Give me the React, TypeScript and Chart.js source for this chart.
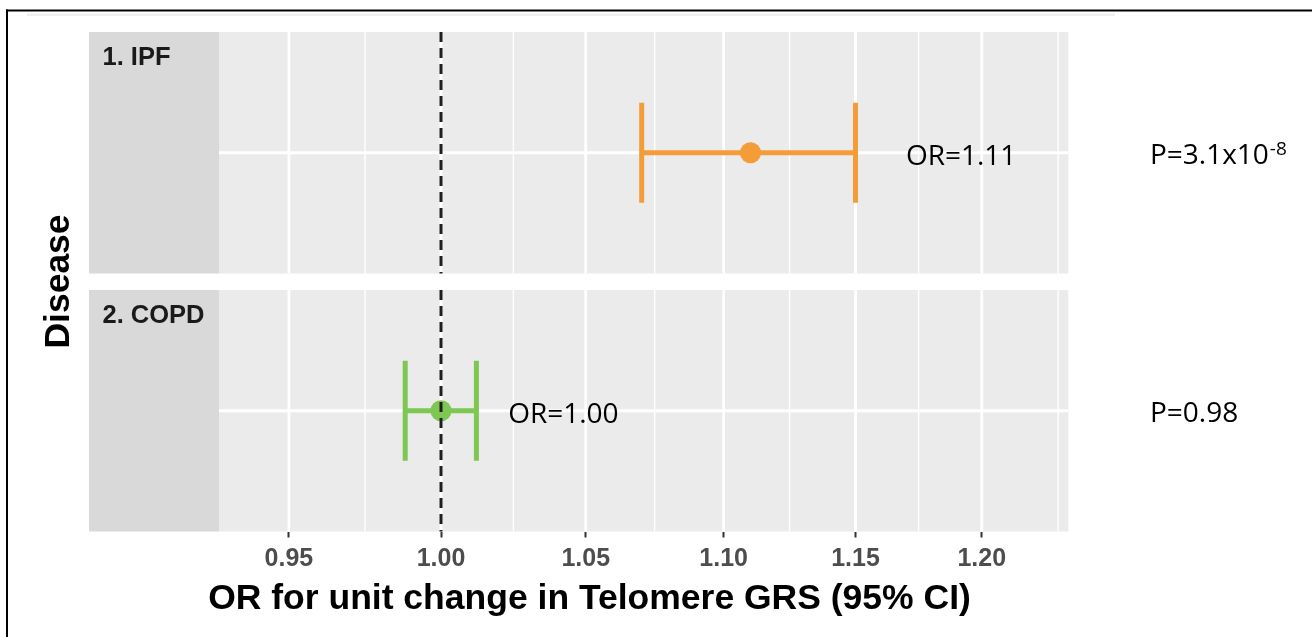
import { useEffect, useRef } from 'react';
import { Chart, registerables } from 'chart.js';

Chart.register(...registerables);

// ---------------- data ----------------
const categories = ['1. IPF', '2. COPD'];
const oddsRatio = [1.11, 1.0];
const ciLower = [1.07, 0.988];
const ciUpper = [1.15, 1.012];
const orLabels = ['OR=1.11', 'OR=1.00'];
const pLabels = ['P=3.1x10', 'P=0.98'];
const pExponents = ['-8', ''];
const xTicks = [0.95, 1.0, 1.05, 1.1, 1.15, 1.2];
const xMinorTicks = [0.9747, 1.0247, 1.0747, 1.1247, 1.1747, 1.2313];
const seriesColors = ['#F39C38', '#7DC752'];
const referenceOR = 1.0;

// ---------------- layout ----------------
const W = 1312;
const H = 637;
const PANEL_GAP = 16.5 / 241.5; // in panel units
const CAP_HALF = 50 / 241.5;
const X_MIN = 0.92788;
const X_MAX = 1.23553;
const STRIP_LEFT = 89;
const OR_LABEL_X = [1.1697, 1.0229];
const P_LABEL_X = 1.27;
const ANNOT_FONT = '"Open Sans", sans-serif';
const GG_FONT = '"Liberation Sans", Arial, sans-serif';

const panelStart = (i: number) => i * (1 + PANEL_GAP);
const panelCenter = (i: number) => panelStart(i) + 0.5;

const backgroundPlugin = {
  id: 'ggBackground',
  beforeDatasetsDraw(chart: any) {
    const { ctx, chartArea, scales } = chart;
    const x = scales.x;
    const y = scales.y;
    ctx.save();
    categories.forEach((cat, i) => {
      const top = y.getPixelForValue(panelStart(i));
      const bottom = y.getPixelForValue(panelStart(i) + 1);
      ctx.fillStyle = '#d9d9d9';
      ctx.fillRect(STRIP_LEFT, top, chartArea.left - STRIP_LEFT, bottom - top);
      ctx.fillStyle = '#ebebeb';
      ctx.fillRect(chartArea.left, top, chartArea.right - chartArea.left, bottom - top);
      ctx.strokeStyle = '#ffffff';
      ctx.lineWidth = 1.4;
      xMinorTicks.forEach((v) => {
        const px = x.getPixelForValue(v);
        if (px < chartArea.left || px > chartArea.right) return;
        ctx.beginPath();
        ctx.moveTo(px, top);
        ctx.lineTo(px, bottom);
        ctx.stroke();
      });
      ctx.lineWidth = 2.8;
      xTicks.forEach((v) => {
        const px = x.getPixelForValue(v);
        ctx.beginPath();
        ctx.moveTo(px, top);
        ctx.lineTo(px, bottom);
        ctx.stroke();
      });
      const cy = y.getPixelForValue(panelCenter(i));
      ctx.beginPath();
      ctx.moveTo(chartArea.left, cy);
      ctx.lineTo(chartArea.right, cy);
      ctx.stroke();
      ctx.fillStyle = '#1a1a1a';
      ctx.font = `bold 25.5px ${GG_FONT}`;
      ctx.textAlign = 'left';
      ctx.textBaseline = 'alphabetic';
      ctx.fillText(cat, 102.5, top + 33.2);
    });
    ctx.restore();
  },
  afterDatasetsDraw(chart: any) {
    const { ctx, scales } = chart;
    const x = scales.x;
    const y = scales.y;
    ctx.save();
    const px = x.getPixelForValue(referenceOR);
    ctx.strokeStyle = '#1f1f1f';
    ctx.lineWidth = 3;
    ctx.setLineDash([10, 6]);
    categories.forEach((_, i) => {
      const top = y.getPixelForValue(panelStart(i));
      const bottom = y.getPixelForValue(panelStart(i) + 1);
      ctx.beginPath();
      ctx.moveTo(px, top);
      ctx.lineTo(px, bottom);
      ctx.stroke();
    });
    ctx.setLineDash([]);
    ctx.restore();
  },
  afterDraw(chart: any) {
    const { ctx, scales } = chart;
    const x = scales.x;
    const y = scales.y;
    ctx.save();
    ctx.fillStyle = '#efefef';
    ctx.fillRect(27, 13.5, 1088, 2.5);
    ctx.fillStyle = '#000000';
    ctx.fillRect(6, 9.5, W - 6, 2);
    ctx.fillRect(6, 9.5, 2, H - 9.5);

    ctx.textAlign = 'left';
    ctx.textBaseline = 'alphabetic';
    categories.forEach((_, i) => {
      const cy = y.getPixelForValue(panelCenter(i));
      ctx.fillStyle = '#000000';
      ctx.font = `28px ${ANNOT_FONT}`;
      ctx.fillText(orLabels[i], x.getPixelForValue(OR_LABEL_X[i]), cy + 12);
      const ppx = x.getPixelForValue(P_LABEL_X);
      ctx.fillText(pLabels[i], ppx, cy + 11.5);
      if (pExponents[i]) {
        const w = ctx.measureText(pLabels[i]).width;
        ctx.font = `19px ${ANNOT_FONT}`;
        ctx.fillText(pExponents[i], ppx + w + 1, cy + 2.5);
      }
    });

    ctx.fillStyle = '#000000';
    ctx.font = `bold 35.5px ${GG_FONT}`;
    ctx.textAlign = 'center';
    ctx.fillText('OR for unit change in Telomere GRS (95% CI)', 589.5, 609);
    ctx.save();
    ctx.translate(69, 281.5);
    ctx.rotate(-Math.PI / 2);
    ctx.fillText('Disease', 0, 0);
    ctx.restore();
    ctx.restore();
  },
};

export default function App() {
  const canvasRef = useRef<HTMLCanvasElement | null>(null);

  useEffect(() => {
    if (!canvasRef.current) return;
    const datasets: any[] = [];
    categories.forEach((_, i) => {
      const yc = panelCenter(i);
      const color = seriesColors[i];
      const seg = (pts: { x: number; y: number }[]) => ({
        type: 'line',
        data: pts,
        borderColor: color,
        borderWidth: 5,
        pointRadius: 0,
        showLine: true,
        fill: false,
        borderCapStyle: 'butt',
        order: 1,
      });
      datasets.push(seg([{ x: ciLower[i], y: yc }, { x: ciUpper[i], y: yc }]));
      datasets.push(seg([{ x: ciLower[i], y: yc - CAP_HALF }, { x: ciLower[i], y: yc + CAP_HALF }]));
      datasets.push(seg([{ x: ciUpper[i], y: yc - CAP_HALF }, { x: ciUpper[i], y: yc + CAP_HALF }]));
      datasets.push({
        type: 'scatter',
        data: [{ x: oddsRatio[i], y: yc }],
        backgroundColor: color,
        borderWidth: 0,
        pointRadius: 10.5,
        pointHoverRadius: 10.5,
        order: 0,
      });
    });

    const chart = new Chart(canvasRef.current, {
      type: 'scatter',
      data: { datasets },
      options: {
        animation: false,
        responsive: false,
        devicePixelRatio: 1,
        layout: { padding: { left: 219, right: W - 1068.3, top: 32, bottom: 0 } },
        plugins: { legend: { display: false }, tooltip: { enabled: false } },
        events: [],
        scales: {
          x: {
            type: 'logarithmic',
            min: X_MIN,
            max: X_MAX,
            bounds: 'data',
            afterBuildTicks: (scale: any) => {
              scale.ticks = xTicks.map((v) => ({ value: v }));
            },
            afterFit: (scale: any) => {
              scale.height = H - 531.5;
            },
            ticks: {
              autoSkip: false,
              maxRotation: 0,
              padding: 7,
              color: '#4d4d4d',
              font: { family: GG_FONT, size: 25, weight: 'bold' },
              callback: (v: any) => Number(v).toFixed(2),
            },
            grid: {
              display: true,
              drawOnChartArea: false,
              drawTicks: true,
              tickLength: 6,
              tickColor: '#333333',
              tickWidth: 2,
            },
            border: { display: false },
          },
          y: {
            type: 'linear',
            display: false,
            min: 0,
            max: 2 + PANEL_GAP,
            reverse: true,
          },
        },
      } as any,
      plugins: [backgroundPlugin],
    });
    return () => chart.destroy();
  }, []);

  return (
    <div style={{ position: 'fixed', left: 0, top: 0, width: W, height: H, background: '#ffffff' }}>
      <canvas ref={canvasRef} width={W} height={H} style={{ display: 'block' }} />
    </div>
  );
}
